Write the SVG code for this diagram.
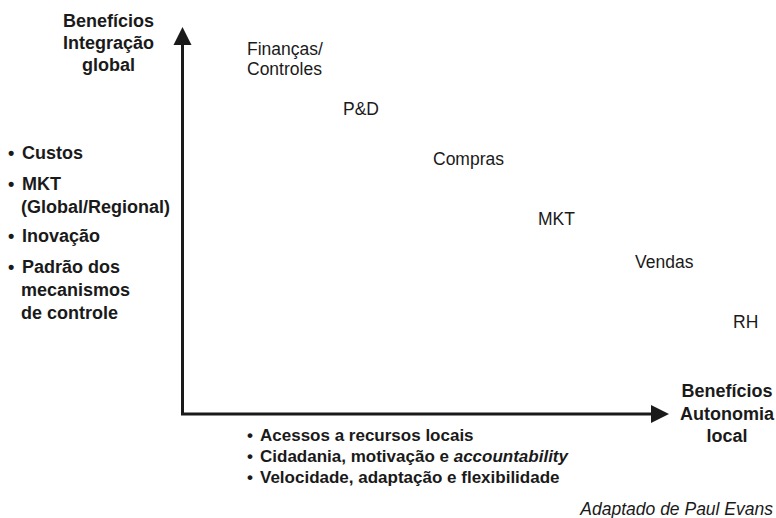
<svg xmlns="http://www.w3.org/2000/svg" width="776" height="518" viewBox="0 0 776 518">
<style>
text{font-family:"Liberation Sans",Arial,Helvetica,sans-serif;fill:#1a1a1a}
.r{font-size:17.5px}
.b{font-size:18px;font-weight:bold}
.bl{font-size:17px;font-weight:bold}
.t{font-size:18px;font-weight:bold;text-anchor:middle}
.ax{stroke:#1a1a1a;stroke-width:3;fill:none}
.ah{fill:#1a1a1a}
</style>
<g id="connectors">
<path class="ax" d="M182.5,42 V414 H654"/>
<path class="ah" d="M182.5,27 L191.5,45 L173.5,45 Z"/>
<path class="ah" d="M669,414 L651,405 L651,423 Z"/>
</g>
<g id="y-title">
<text class="t" x="108.5" y="27">Benefícios</text>
<text class="t" x="108.5" y="49">Integração</text>
<text class="t" x="108.5" y="71">global</text>
</g>
<g id="x-title">
<text class="t" x="727" y="397">Benefícios</text>
<text class="t" x="727" y="420">Autonomia</text>
<text class="t" x="727" y="442">local</text>
</g>
<g id="left-list">
<text class="b" x="8" y="159">•</text><text class="b" x="22" y="159">Custos</text>
<text class="b" x="8" y="190">•</text><text class="b" x="22" y="190">MKT</text>
<text class="b" x="21" y="213">(Global/Regional)</text>
<text class="b" x="8" y="242">•</text><text class="b" x="22" y="242">Inovação</text>
<text class="b" x="8" y="273">•</text><text class="b" x="22" y="273">Padrão dos</text>
<text class="b" x="21" y="296">mecanismos</text>
<text class="b" x="21" y="319">de controle</text>
</g>
<g id="bottom-list">
<text class="bl" x="247" y="441">•</text><text class="bl" x="260" y="441">Acessos a recursos locais</text>
<text class="bl" x="247" y="462">•</text><text class="bl" x="260" y="462">Cidadania, motivação e <tspan font-style="italic">accountability</tspan></text>
<text class="bl" x="247" y="483">•</text><text class="bl" x="260" y="483">Velocidade, adaptação e flexibilidade</text>
</g>
<g id="financas"><text class="r" x="247" y="55">Finanças/</text><text class="r" x="247" y="75">Controles</text></g>
<g id="pd"><text class="r" x="343" y="115">P&amp;D</text></g>
<g id="compras"><text class="r" x="433" y="165">Compras</text></g>
<g id="mkt"><text class="r" x="538" y="225">MKT</text></g>
<g id="vendas"><text class="r" x="635" y="268">Vendas</text></g>
<g id="rh"><text class="r" x="733" y="328">RH</text></g>
<g id="source"><text class="r" x="773" y="515" text-anchor="end" font-style="italic">Adaptado de Paul Evans</text></g>
</svg>
